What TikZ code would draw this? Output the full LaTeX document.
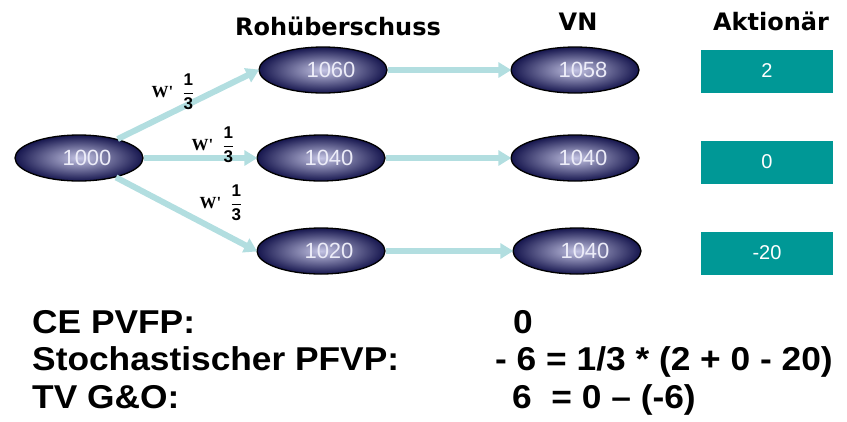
\documentclass[tikz,border=0pt]{standalone}
\usepackage{fontspec}
\usepackage{graphicx}
\usepackage{amsmath}
\setmainfont{Liberation Sans}
\newfontfamily\headfont{DejaVu Sans}
\newfontfamily\labfont{Liberation Serif}
\usetikzlibrary{arrows.meta,shapes.geometric}
\definecolor{navyout}{RGB}{22,22,78}
\definecolor{navyin}{RGB}{196,196,228}
\definecolor{arrowc}{RGB}{178,222,224}
\definecolor{tealbox}{RGB}{0,152,150}
\definecolor{eltext}{RGB}{236,236,248}
\begin{document}
\begin{tikzpicture}[x=1pt,y=-1pt,
  elnode/.style={ellipse, draw=black, line width=1.3pt, minimum width=128pt, minimum height=46pt,
    inner sep=0pt, inner color=navyin, outer color=navyout, text=eltext,
    font=\fontsize{22}{22}\selectfont},
  boxnode/.style={rectangle, fill=tealbox, minimum width=132pt, minimum height=43pt, inner sep=0pt,
    text=white, font=\fontsize{20}{20}\selectfont},
  headnode/.style={anchor=base, inner sep=0pt, font=\headfont\bfseries\fontsize{24}{24}\selectfont},
  bottomtext/.style={anchor=base west, inner sep=0pt, font=\bfseries\fontsize{33}{33}\selectfont},
  wlabel/.style={inner sep=0pt, font=\labfont\bfseries\fontsize{17}{17}\selectfont},
  flow/.style={draw=arrowc, line width=6pt, -{Triangle[length=13pt,width=15pt]}, shorten >=-1pt}
]
\useasboundingbox (0,0) rectangle (847,421);

% headers
\node[headnode] (h1) at (338,35) {Rohüberschuss};
\node[headnode] (h2) at (578,30) {VN};
\node[headnode] (h3) at (771,30) {Aktionär};

% ellipses
\node[elnode] (A) at (79,158) {\hspace*{16pt}1000};
\node[elnode] (B1) at (323,70) {\hspace*{16pt}1060};
\node[elnode] (B2) at (321,158) {\hspace*{16pt}1040};
\node[elnode] (B3) at (321,251) {\hspace*{16pt}1020};
\node[elnode] (C1) at (575,70) {\hspace*{16pt}1058};
\node[elnode] (C2) at (575,158) {\hspace*{16pt}1040};
\node[elnode] (C3) at (577,251) {\hspace*{16pt}1040};

% boxes
\node[boxnode] (D1) at (767,71) {2};
\node[boxnode] (D2) at (767,162) {0};
\node[boxnode] (D3) at (767,253) {-20};

% arrows
\draw[flow] (A) -- (B1.west);
\draw[flow] (A) -- (B2);
\draw[flow] (A) -- (B3.west);
\draw[flow] (B1) -- (C1);
\draw[flow] (B2) -- (C2);
\draw[flow] (B3) -- (C3);

% probability labels
\node[wlabel] (w1) at (173,92) {W'\hspace{9pt}$\dfrac{\mathbf{1}}{\mathbf{3}}$};
\node[wlabel] (w2) at (213,145) {W'\hspace{9pt}$\dfrac{\mathbf{1}}{\mathbf{3}}$};
\node[wlabel] (w3) at (221,203) {W'\hspace{9pt}$\dfrac{\mathbf{1}}{\mathbf{3}}$};

% bottom text
\node[bottomtext] (t1) at (32,333) {\scalebox{1.07}[1]{CE PVFP:}};
\node[bottomtext] (t2) at (32,370) {\scalebox{1.07}[1]{Stochastischer PFVP:}};
\node[bottomtext] (t3) at (32,408) {\scalebox{1.07}[1]{TV G\&O:}};
\node[bottomtext] (r1) at (513,333) {\scalebox{1.07}[1]{0}};
\node[bottomtext] (r2) at (495,370) {\scalebox{1.07}[1]{- 6 = 1/3 * (2 + 0 - 20)}};
\node[bottomtext] (r3) at (512,408) {\scalebox{1.07}[1]{6\ \ = 0 – (-6)}};
\end{tikzpicture}
\end{document}
